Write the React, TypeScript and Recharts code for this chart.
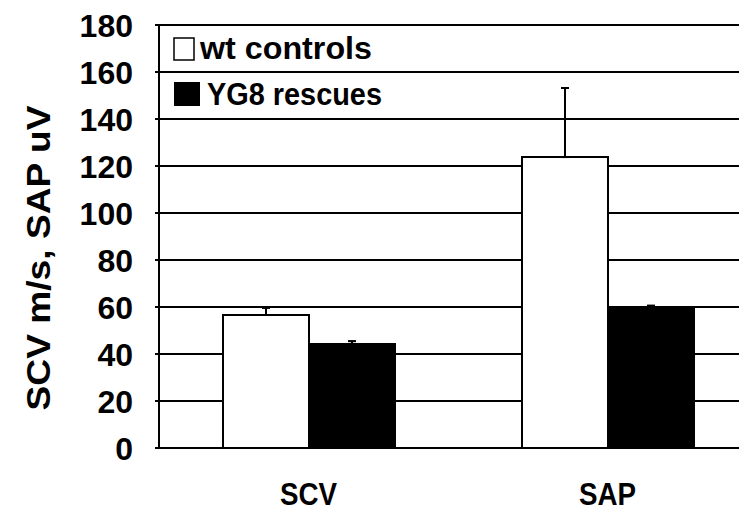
import React from 'react';
import { BarChart, Bar, XAxis, YAxis, CartesianGrid, ErrorBar, Legend } from 'recharts';

const categories = ['SCV', 'SAP'];
const wtValues = [56.6, 123.8];
const wtErrors = [3.0, 29.4];
const yg8Values = [44.3, 60.0];
const yg8Errors = [1.2, 0.6];
const yTicks = [0, 20, 40, 60, 80, 100, 120, 140, 160, 180];
const seriesNames = ['wt controls', 'YG8 rescues'];
const yAxisTitle = 'SCV m/s, SAP uV';

const data = categories.map((c, i) => ({
  cat: c,
  wt: wtValues[i],
  wtErr: [0, wtErrors[i]],
  yg8: yg8Values[i],
  yg8Err: [0, yg8Errors[i]],
}));

const FONT = '"Liberation Sans", Arial, Helvetica, sans-serif';

const YTick = (props: any) => {
  const { x, y, payload } = props;
  return (
    <text x={x} y={y + 11.5} textAnchor="end" fontFamily={FONT} fontWeight="bold" fontSize={32} fill="#000">
      {payload.value}
    </text>
  );
};

const XTick = (props: any) => {
  const { x, y, payload } = props;
  return (
    <text
      x={x}
      y={y + 57}
      textAnchor="middle"
      fontFamily={FONT}
      fontWeight="bold"
      fontSize={31}
      fill="#000"
      textLength={57}
      lengthAdjust="spacingAndGlyphs"
    >
      {payload.value}
    </text>
  );
};

const LegendContent = () => (
  <svg width={230} height={80} style={{ display: 'block', overflow: 'visible' }}>
    <rect x={2} y={2} width={20} height={22} fill="#fff" stroke="#000" strokeWidth={1.5} />
    <text x={28} y={23} fontFamily={FONT} fontWeight="bold" fontSize={31} fill="#000" textLength={172} lengthAdjust="spacingAndGlyphs">
      {seriesNames[0]}
    </text>
    <rect x={2} y={46} width={26} height={24} fill="#000" />
    <text x={35} y={69} fontFamily={FONT} fontWeight="bold" fontSize={31} fill="#000" textLength={175} lengthAdjust="spacingAndGlyphs">
      {seriesNames[1]}
    </text>
  </svg>
);

const YLabel = () => {
  const cx = 42;
  const cy = 250;
  return (
    <text
      x={cx}
      y={cy}
      transform={`rotate(-90, ${cx}, ${cy})`}
      textAnchor="middle"
      fontFamily={FONT}
      fontWeight="bold"
      fontSize={34}
      fill="#000"
      textLength={305}
      lengthAdjust="spacingAndGlyphs"
    >
      {yAxisTitle}
    </text>
  );
};

export default function App() {
  return (
    <div style={{ width: 739, height: 507, overflow: 'hidden', background: '#fff' }}>
      <BarChart
        width={760}
        height={507}
        data={data}
        margin={{ top: 17, right: 11, left: 0, bottom: 0 }}
        barGap={0}
      >
        <CartesianGrid vertical={false} stroke="#000" strokeWidth={2} />
        <XAxis
          dataKey="cat"
          height={67}
          axisLine={{ stroke: '#000', strokeWidth: 2 }}
          tickLine={false}
          tickSize={0}
          tickMargin={0}
          tick={<XTick />}
          interval={0}
        />
        <YAxis
          width={151}
          domain={[0, 180]}
          ticks={yTicks}
          interval={0}
          axisLine={{ stroke: '#000', strokeWidth: 2 }}
          tickLine={{ stroke: '#000', strokeWidth: 2 }}
          tickSize={4}
          tickMargin={22}
          tick={<YTick />}
          label={<YLabel />}
        />
        <Legend
          layout="vertical"
          align="center"
          verticalAlign="middle"
          content={<LegendContent />}
          wrapperStyle={{ position: 'absolute', left: 164, top: 28, width: 230, height: 80 }}
        />
        <Bar dataKey="wt" name={seriesNames[0]} fill="#fff" stroke="#000" strokeWidth={2} barSize={86} isAnimationActive={false}>
          <ErrorBar dataKey="wtErr" direction="y" width={4} stroke="#000" strokeWidth={2} isAnimationActive={false} />
        </Bar>
        <Bar dataKey="yg8" name={seriesNames[1]} fill="#000" stroke="#000" strokeWidth={2} barSize={86} isAnimationActive={false}>
          <ErrorBar dataKey="yg8Err" direction="y" width={4} stroke="#000" strokeWidth={2} isAnimationActive={false} />
        </Bar>
      </BarChart>
    </div>
  );
}
